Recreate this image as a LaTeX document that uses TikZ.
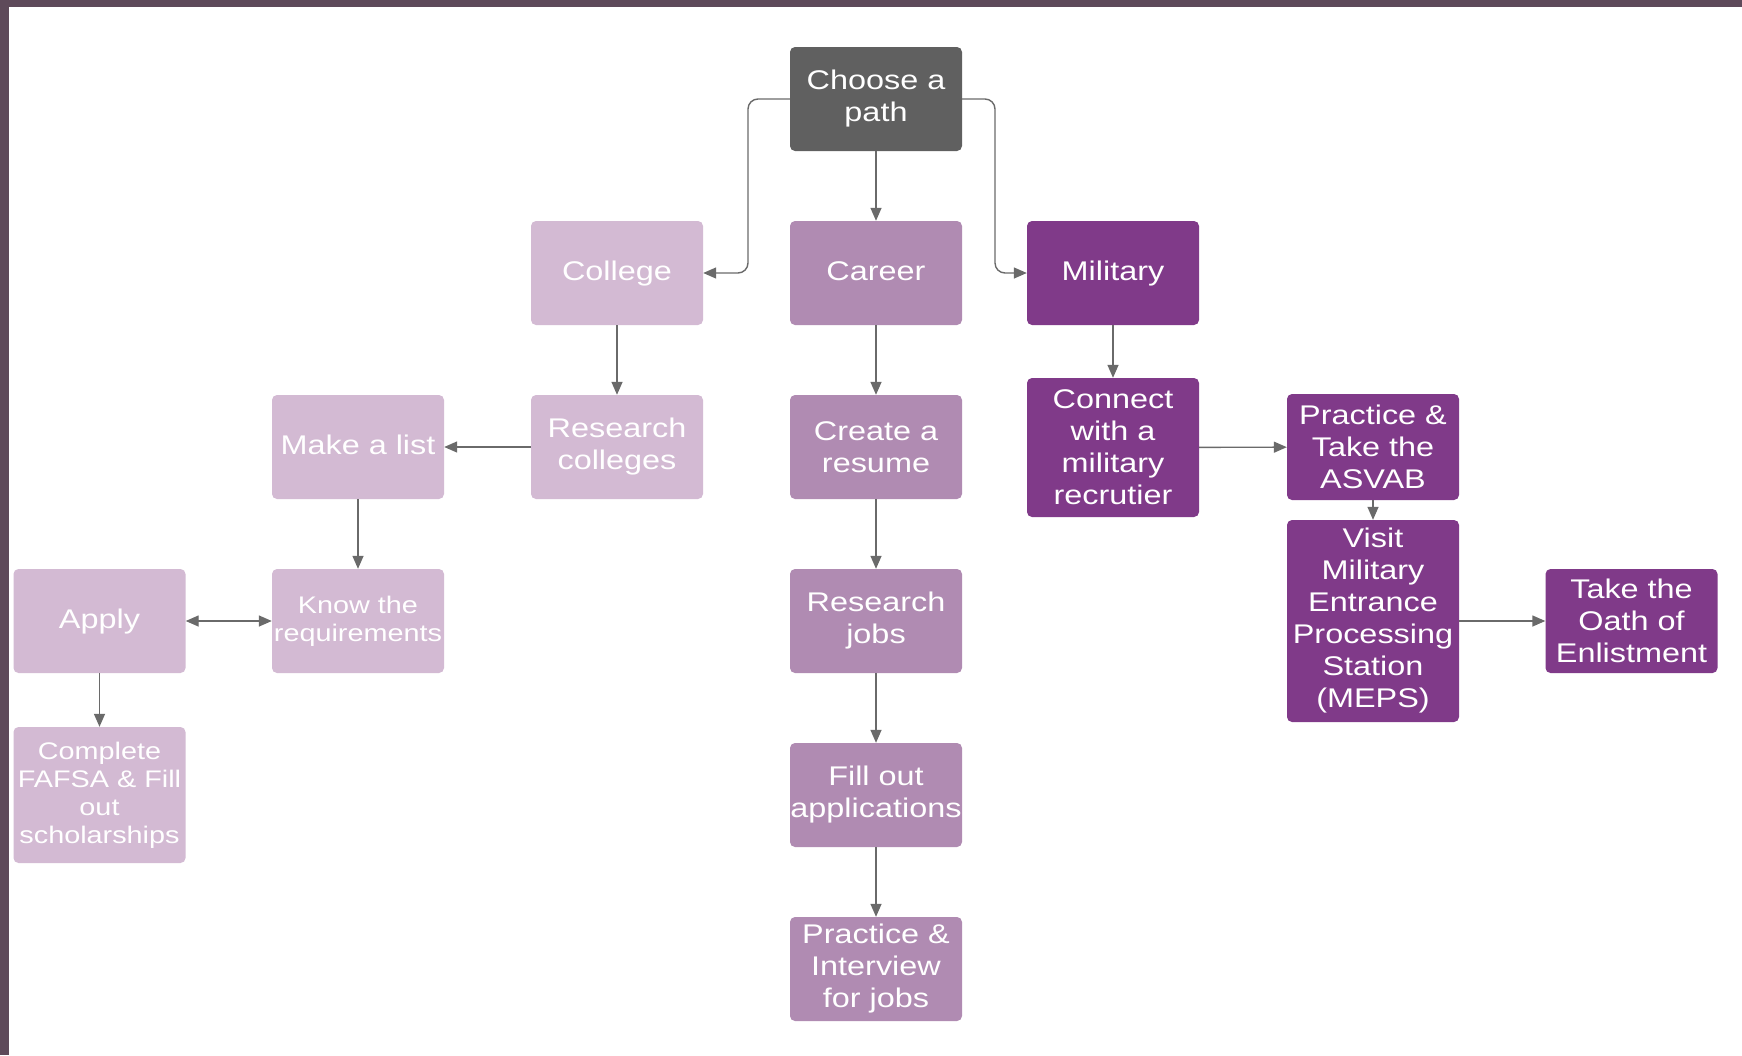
\documentclass[tikz,border=0pt]{standalone}
\usepackage{fontspec}
\setmainfont{Liberation Sans}[FakeStretch=1.2]
\usetikzlibrary{arrows.meta}

\definecolor{pathgray}{HTML}{606060}
\definecolor{collegecol}{HTML}{D3BAD3}
\definecolor{careercol}{HTML}{B08BB2}
\definecolor{militarycol}{HTML}{803A89}
\definecolor{linegray}{HTML}{6A6A6A}
\definecolor{framecol}{HTML}{5E4A5A}

\begin{document}
\begin{tikzpicture}[x=1pt,y=-1pt,
  box/.style={rounded corners=5pt, text=white, align=center, inner sep=0pt,
    minimum width=172pt, minimum height=104pt, font=\fontsize{27}{32}\selectfont},
  small/.style={font=\fontsize{24}{28}\selectfont},
  oneline/.style={text height=19pt, text depth=5pt},
  college/.style={box, fill=collegecol},
  career/.style={box, fill=careercol},
  military/.style={box, fill=militarycol},
  arr/.style={draw=linegray, line width=1.4pt, -{Triangle[length=13pt,width=11pt]}}]
\useasboundingbox (0,0) rectangle (1742,1055);
\fill[white] (0,0) rectangle (1742,1055);
\fill[framecol] (0,0) rectangle (1742,7);
\fill[framecol] (0,0) rectangle (9,1055);

% top
\node[box, fill=pathgray] (choose) at (876,99) {Choose a\\path};
\node[college, oneline] (college) at (617,273) {College};
\node[career, oneline] (career) at (876,273) {Career};
\node[military, oneline] (military) at (1113,273) {Military};

% college path
\node[college] (rescol) at (617,447) {Research\\colleges};
\node[college, oneline] (list) at (358,447) {Make a list};
\node[college, small] (know) at (358,621) {Know the\\requirements};
\node[college, oneline] (apply) at (99.5,621) {Apply};
\node[college, small, minimum height=136pt] (fafsa) at (99.5,795) {Complete\\FAFSA \& Fill\\out\\scholarships};

% career path
\node[career] (resume) at (876,447) {Create a\\resume};
\node[career] (resjobs) at (876,621) {Research\\jobs};
\node[career] (fillout) at (876,795) {Fill out\\applications};
\node[career] (interview) at (876,969) {Practice \&\\Interview\\for jobs};

% military path
\node[military, minimum height=139pt] (connect) at (1113,447.5) {Connect\\with a\\military\\recrutier};
\node[military, minimum height=106pt] (asvab) at (1373,447) {Practice \&\\Take the\\ASVAB};
\node[military, minimum height=202pt] (meps) at (1373,621) {Visit\\Military\\Entrance\\Processing\\Station\\(MEPS)};
\node[military] (oath) at (1631.5,621) {Take the\\Oath of\\Enlistment};

\coordinate (lbend) at (748,99);
\coordinate (rbend) at (995,99);
\draw[arr, rounded corners=10pt] (choose.west) -- (lbend) |- (college.east);
\draw[arr, rounded corners=10pt] (choose.east) -- (rbend) |- (military.west);
\draw[arr] (choose) -- (career);

\draw[arr] (college) -- (rescol);
\draw[arr] (rescol) -- (list);
\draw[arr] (list) -- (know);
\draw[arr, {Triangle[length=13pt,width=11pt]}-{Triangle[length=13pt,width=11pt]}] (apply) -- (know);
\draw[arr] (apply) -- (fafsa);

\draw[arr] (career) -- (resume);
\draw[arr] (resume) -- (resjobs);
\draw[arr] (resjobs) -- (fillout);
\draw[arr] (fillout) -- (interview);

\draw[arr] (military) -- (connect);
\draw[arr] (connect) -- (asvab);
\draw[arr] (asvab) -- (meps);
\draw[arr] (meps) -- (oath);
\end{tikzpicture}
\end{document}
